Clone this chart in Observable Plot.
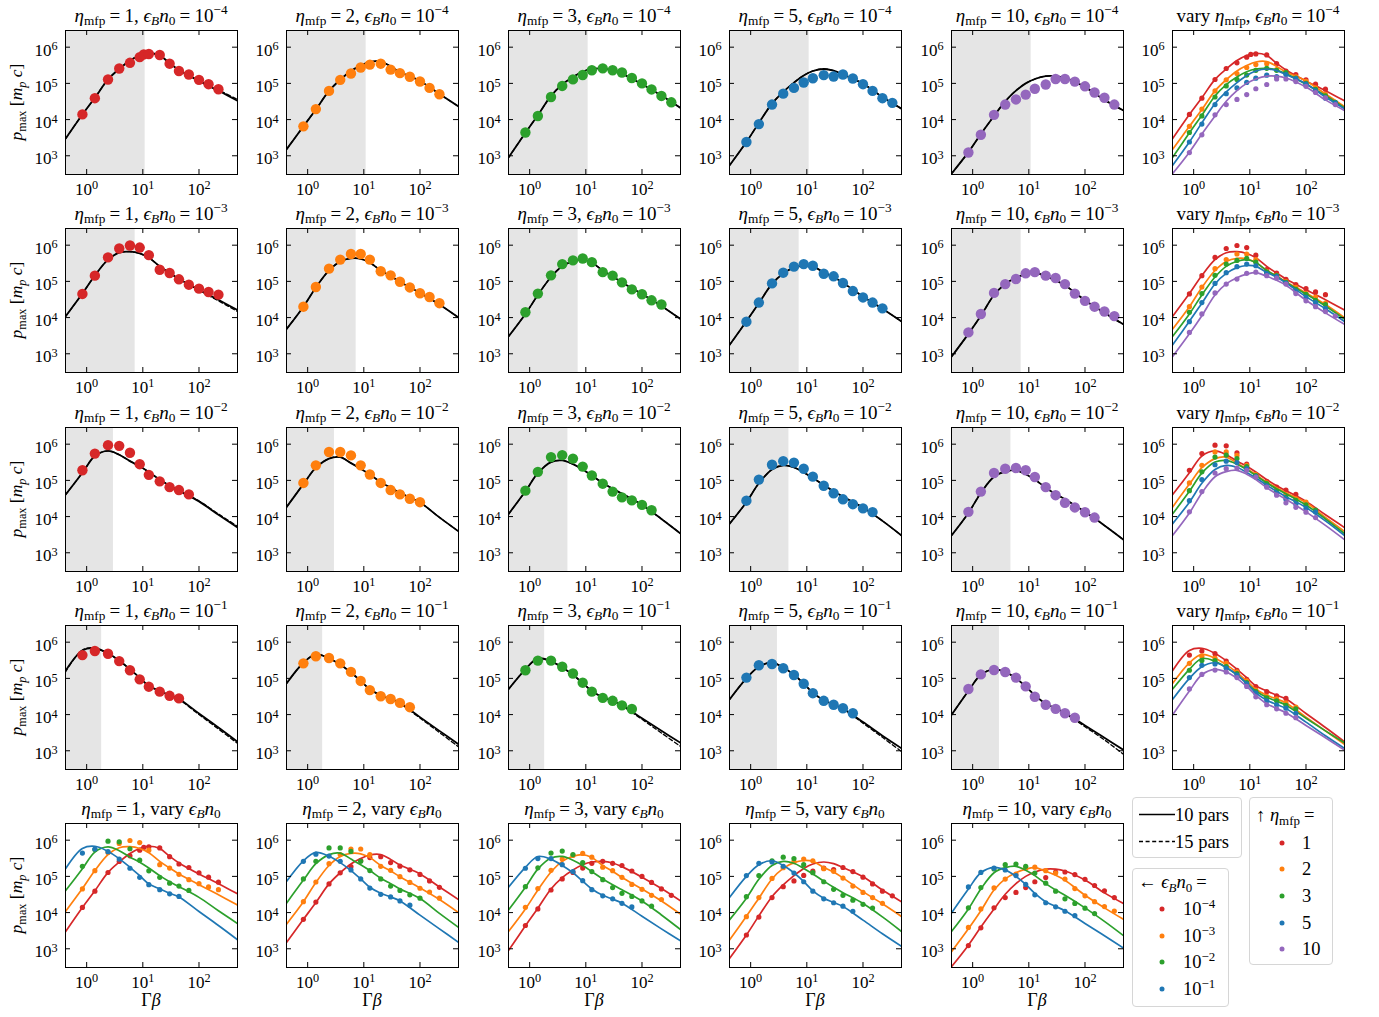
<!DOCTYPE html>
<html><head><meta charset="utf-8">
<script src="https://cdn.jsdelivr.net/npm/d3@7"></script>
<script src="https://cdn.jsdelivr.net/npm/@observablehq/plot@0.6"></script>
<style>
html,body{margin:0;padding:0;background:#fff;}
#root{position:relative;width:1379px;height:1017px;overflow:hidden;font-family:"Liberation Serif","DejaVu Serif",serif;color:#000;}
.t{position:absolute;white-space:nowrap;font-size:19px;line-height:1;transform:translate(-50%,-50%);}
.t sub,.lg sub{font-size:70%;vertical-align:-0.3em;line-height:0;}
.t sup,.lg sup{font-size:70%;vertical-align:0.55em;line-height:0;}
.eq{margin:0 0.22em;}
.ylab{transform:translate(-50%,-50%) rotate(-90deg);font-size:17.5px;}
.xlab{font-size:18px;}
.leg{position:absolute;border:1px solid #d6d6d6;border-radius:4px;background:#fff;box-sizing:border-box;}
.lg{position:absolute;white-space:nowrap;font-size:18.5px;line-height:1;transform:translateY(-50%);}
.ld{position:absolute;width:5px;height:5px;border-radius:50%;transform:translate(-50%,-50%);}
</style></head>
<body><div id="root"></div>
<script>
// ---------------- data ----------------
const gammaBeta = [0.84, 1.4, 2.4, 3.8, 5.9, 8.8, 10.4, 12.8, 20, 30, 44, 66, 100, 148, 222, 333];
const fitGammaBeta = [0.42, 0.84, 1.4, 2.4, 3.8, 5.9, 8.8, 12.8, 20, 30, 44, 100, 222, 485];
const etaValues = [1, 2, 3, 5, 10];
const epsLabels = ["−4", "−3", "−2", "−1"];
const shadeEdge = [[11, 11, 11, 11, 11], [7.3, 7.3, 7.3, 7.3, 7.3], [3.0, 3.0, 4.8, 4.8, 4.8], [1.85, 1.85, 1.85, 3.0, 3.0]];

// simulation points, one row per eta (1,2,3,5,10), aligned with gammaBeta
const pmaxEps4 = [
 [1.39e4, 3.9e4, 1.28e5, 2.58e5, 3.7e5, 5.3e5, 6.3e5, 6.5e5, 6.1e5, 3.5e5, 2.2e5, 1.76e5, 1.25e5, 9.5e4, 6.9e4, null],
 [6.5e3, 1.95e4, 6.2e4, 1.25e5, 1.87e5, 2.75e5, null, 3.3e5, 3.5e5, 2.4e5, 1.92e5, 1.52e5, 1.13e5, 7.5e4, 5.0e4, null],
 [4.4e3, 1.26e4, 4.2e4, 8.5e4, 1.29e5, 1.7e5, null, 2.3e5, 2.6e5, 2.3e5, 2.0e5, 1.41e5, 1.0e5, 6.8e4, 4.5e4, 3.0e4],
 [2.4e3, 7.5e3, 2.6e4, 5.2e4, 7.5e4, 1.06e5, null, 1.39e5, 1.69e5, 1.55e5, 1.76e5, 1.36e5, 9.5e4, 6.2e4, 3.9e4, 2.9e4],
 [1.23e3, 3.8e3, 1.35e4, 2.6e4, 3.6e4, 4.9e4, null, 7.1e4, 9.3e4, 1.32e5, 1.32e5, 1.12e5, 8.3e4, 5.6e4, 4.0e4, 2.6e4]
];
const pmaxEps3 = [
 [4.5e4, 1.44e5, 4.6e5, 8.1e5, 9.8e5, 8.6e5, null, 5.3e5, 2.1e5, 1.7e5, 1.14e5, 8.1e4, 6.3e4, 5.1e4, 4.3e4, null],
 [2.0e4, 7.0e4, 2.25e5, 4.0e5, 5.7e5, 5.7e5, null, 4.0e5, 1.9e5, 1.47e5, 9.8e4, 6.8e4, 4.7e4, 3.7e4, 2.5e4, null],
 [1.4e4, 4.6e4, 1.47e5, 3.0e5, 3.8e5, 4.3e5, null, 3.4e5, 1.8e5, 1.44e5, 9.4e4, 6.0e4, 4.4e4, 3.0e4, 2.3e4, null],
 [7.7e3, 2.6e4, 8.8e4, 1.74e5, 2.55e5, 3.0e5, null, 2.7e5, 1.63e5, 1.38e5, 9.0e4, 5.4e4, 3.6e4, 2.6e4, 1.8e4, null],
 [3.9e3, 1.26e4, 4.8e4, 8.4e4, 1.16e5, 1.67e5, null, 1.8e5, 1.44e5, 1.24e5, 8.4e4, 4.6e4, 2.9e4, 2.0e4, 1.47e4, 1.1e4]
];
const pmaxEps2 = [
 [1.9e5, 5.5e5, 9.4e5, 9.0e5, 5.8e5, 2.8e5, null, 1.42e5, 9.4e4, 6.5e4, 5.4e4, 4.1e4, null, null, null, null],
 [8.5e4, 2.6e5, 6.1e5, 6.1e5, 4.9e5, 2.6e5, null, 1.45e5, 8.5e4, 5.4e4, 4.1e4, 3.1e4, 2.5e4, null, null, null],
 [5.2e4, 1.72e5, 4.4e5, 5.0e5, 4.0e5, 2.4e5, null, 1.36e5, 8.1e4, 4.9e4, 3.4e4, 2.8e4, 2.1e4, 1.5e4, null, null],
 [2.75e4, 1.05e5, 2.7e5, 3.4e5, 3.1e5, 2.1e5, null, 1.27e5, 7.1e4, 4.4e4, 3.0e4, 2.2e4, 1.69e4, 1.33e4, null, null],
 [1.35e4, 4.9e4, 1.6e5, 2.1e5, 2.2e5, 1.9e5, null, 1.24e5, 6.5e4, 3.9e4, 2.4e4, 1.79e4, 1.32e4, 9.4e3, null, null]
];
const pmaxEps1 = [
 [4.4e5, 5.7e5, 4.8e5, 3.0e5, 1.68e5, 9.4e4, null, 5.9e4, 4.3e4, 3.3e4, 2.8e4, null, null, null, null, null],
 [2.6e5, 4.1e5, 3.65e5, 2.6e5, 1.51e5, 8.5e4, null, 4.75e4, 3.2e4, 2.7e4, 2.1e4, 1.6e4, null, null, null, null],
 [1.68e5, 3.1e5, 3.1e5, 2.1e5, 1.36e5, 7.6e4, null, 4.3e4, 2.9e4, 2.4e4, 1.8e4, 1.43e4, null, null, null, null],
 [1.05e5, 2.3e5, 2.5e5, 1.9e5, 1.24e5, 7.1e4, null, 3.9e4, 2.4e4, 1.87e4, 1.5e4, 1.09e4, null, null, null, null],
 [5.1e4, 1.29e5, 1.7e5, 1.5e5, 1.05e5, 6.0e4, null, 3.1e4, 1.87e4, 1.44e4, 1.09e4, 8.2e3, null, null, null, null]
];

// fitted model curves (10 and 15 parameters), aligned with fitGammaBeta
const fit10Eps4 = [
 [2.95e3, 1.38e4, 4.0e4, 1.29e5, 2.5e5, 4.3e5, 5.9e5, 6.8e5, 5.9e5, 3.6e5, 2.35e5, 1.17e5, 6.3e4, 3.3e4],
 [1.5e3, 6.5e3, 1.9e4, 6.2e4, 1.26e5, 2.2e5, 3.1e5, 3.9e5, 4.0e5, 2.95e5, 2.05e5, 1.17e5, 5.1e4, 2.3e4],
 [8.9e2, 4.3e3, 1.32e4, 4.5e4, 9.3e4, 1.51e5, 2.1e5, 2.5e5, 2.6e5, 2.35e5, 1.86e5, 9.5e4, 4.6e4, 2.1e4],
 [5.4e2, 2.4e3, 8.1e3, 2.75e4, 5.8e4, 1.05e5, 1.66e5, 2.2e5, 2.5e5, 2.25e5, 1.76e5, 9.8e4, 4.2e4, 2.0e4],
 [3.2e2, 1.26e3, 4.0e3, 1.26e4, 3.2e4, 6.3e4, 1.0e5, 1.32e5, 1.58e5, 1.58e5, 1.41e5, 7.9e4, 3.5e4, 1.78e4]
];
const fit15Eps4 = [
 [2.95e3, 1.38e4, 4.0e4, 1.29e5, 2.5e5, 4.3e5, 5.9e5, 6.8e5, 5.9e5, 3.6e5, 2.35e5, 1.2e5, 6.6e4, 3.6e4],
 [1.5e3, 6.5e3, 1.9e4, 6.2e4, 1.26e5, 2.2e5, 3.1e5, 3.9e5, 4.0e5, 2.95e5, 2.05e5, 1.17e5, 5.1e4, 2.3e4],
 [8.9e2, 4.3e3, 1.32e4, 4.5e4, 9.3e4, 1.51e5, 2.1e5, 2.5e5, 2.6e5, 2.35e5, 1.86e5, 9.5e4, 4.6e4, 2.1e4],
 [5.4e2, 2.4e3, 8.1e3, 2.75e4, 5.8e4, 1.05e5, 1.66e5, 2.2e5, 2.5e5, 2.25e5, 1.76e5, 9.8e4, 4.2e4, 2.0e4],
 [3.2e2, 1.26e3, 4.0e3, 1.26e4, 3.2e4, 6.3e4, 1.0e5, 1.32e5, 1.58e5, 1.58e5, 1.41e5, 7.9e4, 3.5e4, 1.78e4]
];
const fit10Eps3 = [
 [1.07e4, 4.6e4, 1.45e5, 4.0e5, 6.2e5, 6.6e5, 5.9e5, 4.5e5, 2.6e5, 1.7e5, 1.17e5, 5.9e4, 3.1e4, 1.62e4],
 [4.8e3, 2.0e4, 6.8e4, 2.0e5, 3.55e5, 4.3e5, 4.2e5, 3.3e5, 2.0e5, 1.41e5, 9.8e4, 4.8e4, 2.3e4, 1.0e4],
 [3.0e3, 1.26e4, 4.2e4, 1.32e5, 2.6e5, 3.6e5, 4.0e5, 3.3e5, 2.0e5, 1.38e5, 9.3e4, 4.5e4, 2.1e4, 9.1e3],
 [1.74e3, 7.9e3, 2.5e4, 8.5e4, 1.66e5, 2.4e5, 2.75e5, 2.6e5, 1.78e5, 1.32e5, 9.1e4, 3.8e4, 1.75e4, 7.8e3],
 [8.3e2, 3.55e3, 1.12e4, 4.2e4, 8.5e4, 1.26e5, 1.58e5, 1.74e5, 1.38e5, 1.07e5, 7.8e4, 3.0e4, 1.35e4, 6.5e3]
];
const fit15Eps3 = [
 [1.07e4, 4.6e4, 1.45e5, 4.0e5, 6.2e5, 6.6e5, 5.9e5, 4.5e5, 2.6e5, 1.7e5, 1.17e5, 5.7e4, 2.9e4, 1.48e4],
 [4.8e3, 2.0e4, 6.8e4, 2.0e5, 3.55e5, 4.3e5, 4.2e5, 3.3e5, 2.0e5, 1.41e5, 9.8e4, 4.8e4, 2.3e4, 1.0e4],
 [3.0e3, 1.26e4, 4.2e4, 1.32e5, 2.6e5, 3.6e5, 4.0e5, 3.3e5, 2.0e5, 1.38e5, 9.3e4, 4.5e4, 2.1e4, 9.1e3],
 [1.74e3, 7.9e3, 2.5e4, 8.5e4, 1.66e5, 2.4e5, 2.75e5, 2.6e5, 1.78e5, 1.32e5, 9.1e4, 3.8e4, 1.75e4, 7.8e3],
 [8.3e2, 3.55e3, 1.12e4, 4.2e4, 8.5e4, 1.26e5, 1.58e5, 1.74e5, 1.38e5, 1.07e5, 7.8e4, 3.0e4, 1.35e4, 6.5e3]
];
const fit10Eps2 = [
 [4.0e4, 1.62e5, 4.7e5, 6.5e5, 5.1e5, 3.4e5, 2.45e5, 1.7e5, 1.05e5, 7.1e4, 5.2e4, 2.63e4, 1.12e4, 5.0e3],
 [1.82e4, 7.9e4, 2.24e5, 4.0e5, 4.4e5, 3.0e5, 2.1e5, 1.45e5, 8.9e4, 6.3e4, 4.5e4, 2.45e4, 9.5e3, 3.9e3],
 [1.17e4, 5.0e4, 1.58e5, 3.2e5, 3.55e5, 2.8e5, 2.0e5, 1.35e5, 8.5e4, 5.9e4, 4.3e4, 2.1e4, 8.6e3, 3.4e3],
 [6.3e3, 2.5e4, 8.3e4, 2.0e5, 2.6e5, 2.3e5, 1.66e5, 1.17e5, 7.4e4, 5.0e4, 3.55e4, 1.78e4, 7.6e3, 3.0e3],
 [3.0e3, 1.26e4, 4.5e4, 1.26e5, 1.74e5, 1.9e5, 1.48e5, 1.05e5, 6.3e4, 4.2e4, 3.0e4, 1.35e4, 5.7e3, 2.3e3]
];
const fit15Eps2 = [
 [4.0e4, 1.62e5, 4.7e5, 6.5e5, 5.1e5, 3.4e5, 2.45e5, 1.7e5, 1.05e5, 7.1e4, 5.2e4, 2.7e4, 1.18e4, 5.4e3],
 [1.82e4, 7.9e4, 2.24e5, 4.0e5, 4.4e5, 3.0e5, 2.1e5, 1.45e5, 8.9e4, 6.3e4, 4.5e4, 2.45e4, 9.5e3, 3.9e3],
 [1.17e4, 5.0e4, 1.58e5, 3.2e5, 3.55e5, 2.8e5, 2.0e5, 1.35e5, 8.5e4, 5.9e4, 4.3e4, 2.1e4, 8.6e3, 3.4e3],
 [6.3e3, 2.5e4, 8.3e4, 2.0e5, 2.6e5, 2.3e5, 1.66e5, 1.17e5, 7.4e4, 5.0e4, 3.55e4, 1.78e4, 7.6e3, 3.0e3],
 [3.0e3, 1.26e4, 4.5e4, 1.26e5, 1.74e5, 1.9e5, 1.48e5, 1.05e5, 6.3e4, 4.2e4, 3.0e4, 1.35e4, 5.7e3, 2.3e3]
];
const fit10Eps1 = [
 [1.62e5, 5.9e5, 6.8e5, 4.9e5, 3.1e5, 1.78e5, 1.05e5, 6.2e4, 4.5e4, 3.4e4, 2.7e4, 1.07e4, 4.4e3, 1.78e3],
 [7.2e4, 2.7e5, 4.6e5, 3.6e5, 2.4e5, 1.45e5, 8.5e4, 5.0e4, 3.4e4, 2.7e4, 2.1e4, 8.5e3, 3.55e3, 1.51e3],
 [5.0e4, 1.78e5, 3.55e5, 2.95e5, 2.0e5, 1.26e5, 7.4e4, 4.5e4, 3.0e4, 2.35e4, 1.82e4, 7.9e3, 3.55e3, 1.66e3],
 [2.6e4, 1.0e5, 2.1e5, 2.7e5, 2.0e5, 1.26e5, 7.2e4, 4.0e4, 2.5e4, 1.9e4, 1.48e4, 6.2e3, 2.6e3, 1.17e3],
 [9.8e3, 4.5e4, 1.26e5, 1.78e5, 1.51e5, 1.0e5, 6.0e4, 3.4e4, 2.0e4, 1.48e4, 1.12e4, 5.0e3, 2.3e3, 1.05e3]
];
const fit15Eps1 = [
 [1.5e5, 6.1e5, 6.9e5, 4.8e5, 3.1e5, 1.78e5, 1.05e5, 6.2e4, 4.5e4, 3.4e4, 2.6e4, 1.0e4, 4.0e3, 1.6e3],
 [7.2e4, 2.7e5, 4.6e5, 3.6e5, 2.4e5, 1.45e5, 8.5e4, 5.0e4, 3.4e4, 2.7e4, 2.0e4, 8.0e3, 3.2e3, 1.29e3],
 [5.0e4, 1.78e5, 3.55e5, 2.95e5, 2.0e5, 1.26e5, 7.4e4, 4.5e4, 3.0e4, 2.35e4, 1.75e4, 7.4e3, 3.1e3, 1.32e3],
 [2.6e4, 1.0e5, 2.1e5, 2.7e5, 2.0e5, 1.26e5, 7.2e4, 4.0e4, 2.5e4, 1.9e4, 1.42e4, 5.8e3, 2.35e3, 9.5e2],
 [9.8e3, 4.5e4, 1.26e5, 1.78e5, 1.51e5, 1.0e5, 6.0e4, 3.4e4, 2.0e4, 1.48e4, 1.07e4, 4.6e3, 2.0e3, 8.0e2]
];

const xTicks = [1, 10, 100];
const yTicks = [1e3, 1e4, 1e5, 1e6];
const palette = ["#d62728", "#ff7f0e", "#2ca02c", "#1f77b4", "#9467bd"];

// ---------------- layout ----------------
const X_DOMAIN = [0.42, 485], Y_DOMAIN = [304, 2.89e6];
const FW = 172, FH = 144, ML = 46, MR = 6, MT = 6, MB = 30;
const colLeft = [65, 286, 508, 729, 951, 1172];
const rowTop = [30, 228, 427, 625, 823];
const root = document.getElementById("root");

const rowsData = [
  {pts: pmaxEps4, f10: fit10Eps4, f15: fit15Eps4},
  {pts: pmaxEps3, f10: fit10Eps3, f15: fit15Eps3},
  {pts: pmaxEps2, f10: fit10Eps2, f15: fit15Eps2},
  {pts: pmaxEps1, f10: fit10Eps1, f15: fit15Eps1}
];
const toPts = arr => arr.map((v, i) => ({x: gammaBeta[i], y: v})).filter(d => d.y != null);
const toFit = arr => arr.map((v, i) => ({x: fitGammaBeta[i], y: v}));
const supFmt = d => "10^" + Math.round(Math.log10(d));

function fixLabels(svg) {
  svg.querySelectorAll("text").forEach(t => {
    const m = /^10\^(-?\d+)$/.exec(t.textContent.trim());
    if (!m) return;
    while (t.firstChild) t.removeChild(t.firstChild);
    t.appendChild(document.createTextNode("10"));
    const ts = document.createElementNS("http://www.w3.org/2000/svg", "tspan");
    ts.setAttribute("dy", "-0.42em");
    ts.setAttribute("font-size", "0.72em");
    ts.textContent = m[1].replace("-", "−");
    t.appendChild(ts);
  });
}

function addText(html, x, y, cls) {
  const d = document.createElement("div");
  d.className = "t" + (cls ? " " + cls : "");
  d.style.left = x + "px"; d.style.top = y + "px";
  d.innerHTML = html;
  root.appendChild(d);
}

function panel(row, col, cfg) {
  const marks = [];
  if (cfg.shade != null) marks.push(Plot.rect([cfg.shade], {x1: () => X_DOMAIN[0], x2: d => d, y1: () => Y_DOMAIN[0], y2: () => Y_DOMAIN[1], fill: "#e5e5e5"}));
  for (const s of cfg.series) {
    if (cfg.single) {
      marks.push(Plot.line(s.f15, {x: "x", y: "y", stroke: "#000", strokeWidth: 1.3, strokeDasharray: "4,2.6", curve: "catmull-rom", clip: true}));
      marks.push(Plot.line(s.f10, {x: "x", y: "y", stroke: "#000", strokeWidth: 1.8, curve: "catmull-rom", clip: true}));
      marks.push(Plot.dot(s.pts, {x: "x", y: "y", r: 5.2, fill: s.color, clip: true}));
    } else {
      marks.push(Plot.line(s.f10, {x: "x", y: "y", stroke: s.color, strokeWidth: 1.7, curve: "catmull-rom", clip: true}));
      marks.push(Plot.dot(s.pts, {x: "x", y: "y", r: 2.6, fill: s.color, clip: true}));
    }
  }
  marks.push(
    Plot.tickX(xTicks, {x: d => d, stroke: "#000", insetTop: FH - 5}),
    Plot.tickX(xTicks, {x: d => d, stroke: "#000", insetBottom: FH - 5}),
    Plot.tickY(yTicks, {y: d => d, stroke: "#000", insetRight: FW - 5}),
    Plot.tickY(yTicks, {y: d => d, stroke: "#000", insetLeft: FW - 5}),
    Plot.frame({stroke: "#000", strokeWidth: 1}),
    Plot.axisX({ticks: xTicks, tickSize: 0, tickPadding: 8, tickFormat: supFmt, label: null}),
    Plot.axisY({ticks: yTicks, tickSize: 0, tickPadding: 8, tickFormat: supFmt, label: null, dy: 3})
  );
  const svg = Plot.plot({
    width: ML + FW + MR, height: MT + FH + MB,
    marginLeft: ML, marginRight: MR, marginTop: MT, marginBottom: MB,
    x: {type: "log", domain: X_DOMAIN},
    y: {type: "log", domain: Y_DOMAIN},
    style: {background: "transparent", overflow: "visible", fontFamily: '"Liberation Serif","DejaVu Serif",serif', fontSize: "17px", color: "#000"},
    marks
  });
  fixLabels(svg);
  svg.style.position = "absolute";
  svg.style.left = (colLeft[col] - ML) + "px";
  svg.style.top = (rowTop[row] - MT) + "px";
  root.appendChild(svg);
}

const EQ = `<span class="eq">=</span>`;
const ETA = e => `<i>η</i><sub>mfp</sub>${EQ}${e}`;
const EPS = `<i>ϵ<sub>B</sub>n</i><sub>0</sub>`;

// individual panels
rowsData.forEach((rd, r) => {
  etaValues.forEach((eta, c) => {
    panel(r, c, {single: true, shade: shadeEdge[r][c], series: [{pts: toPts(rd.pts[c]), f10: toFit(rd.f10[c]), f15: toFit(rd.f15[c]), color: palette[c]}]});
    addText(`${ETA(eta)}, ${EPS}${EQ}10<sup>${epsLabels[r]}</sup>`, colLeft[c] + FW / 2, rowTop[r] - 15);
  });
  // vary eta
  panel(r, 5, {single: false, series: etaValues.map((eta, c) => ({pts: toPts(rd.pts[c]), f10: toFit(rd.f10[c]), color: palette[c]}))});
  addText(`vary <i>η</i><sub>mfp</sub>, ${EPS}${EQ}10<sup>${epsLabels[r]}</sup>`, colLeft[5] + FW / 2, rowTop[r] - 15);
});
// vary epsB n0
etaValues.forEach((eta, c) => {
  panel(4, c, {single: false, series: rowsData.map((rd, r) => ({pts: toPts(rd.pts[c]), f10: toFit(rd.f10[c]), color: palette[r]}))});
  addText(`${ETA(eta)}, vary ${EPS}`, colLeft[c] + FW / 2, rowTop[4] - 15);
  addText(`Γ<i>β</i>`, colLeft[c] + FW / 2, 1000, "xlab");
});
// y labels
rowTop.forEach(t => addText(`<i>p</i><sub>max</sub> [<i>m<sub>p</sub></i> <i>c</i>]`, 17, t + FH / 2, "ylab"));

// ---------------- legends ----------------
function box(l, t, w, h) {
  const d = document.createElement("div");
  d.className = "leg";
  Object.assign(d.style, {left: l + "px", top: t + "px", width: w + "px", height: h + "px"});
  root.appendChild(d);
  return d;
}
function lgText(parent, html, x, y) {
  const s = document.createElement("div");
  s.className = "lg"; s.style.left = x + "px"; s.style.top = y + "px"; s.innerHTML = html;
  parent.appendChild(s);
}
function lgDot(parent, color, x, y) {
  const s = document.createElement("div");
  s.className = "ld"; s.style.left = x + "px"; s.style.top = y + "px"; s.style.background = color;
  parent.appendChild(s);
}
const b1 = box(1132, 797, 110, 61);
b1.innerHTML = `<svg width="40" height="60" style="position:absolute;left:4px;top:0"><line x1="2" x2="38" y1="16.5" y2="16.5" stroke="#000" stroke-width="1.6"/><line x1="2" x2="38" y1="43.5" y2="43.5" stroke="#000" stroke-width="1.3" stroke-dasharray="4,2.6"/></svg>`;
lgText(b1, "10 pars", 42, 17);
lgText(b1, "15 pars", 42, 44);

const b2 = box(1132, 868, 97, 139);
lgText(b2, `← ${EPS}${EQ}`, 5, 13);
["−4", "−3", "−2", "−1"].forEach((e, i) => {
  lgDot(b2, palette[i], 29, 40 + i * 26.7);
  lgText(b2, `10<sup>${e}</sup>`, 50, 40 + i * 26.7);
});
const b3 = box(1249, 797, 84, 168);
lgText(b3, `↑ <i>η</i><sub>mfp</sub>${EQ}`, 6, 17);
etaValues.forEach((e, i) => {
  lgDot(b3, palette[i], 32, 44.5 + i * 26.7);
  lgText(b3, `${e}`, 52, 44.5 + i * 26.7);
});
</script></body></html>
